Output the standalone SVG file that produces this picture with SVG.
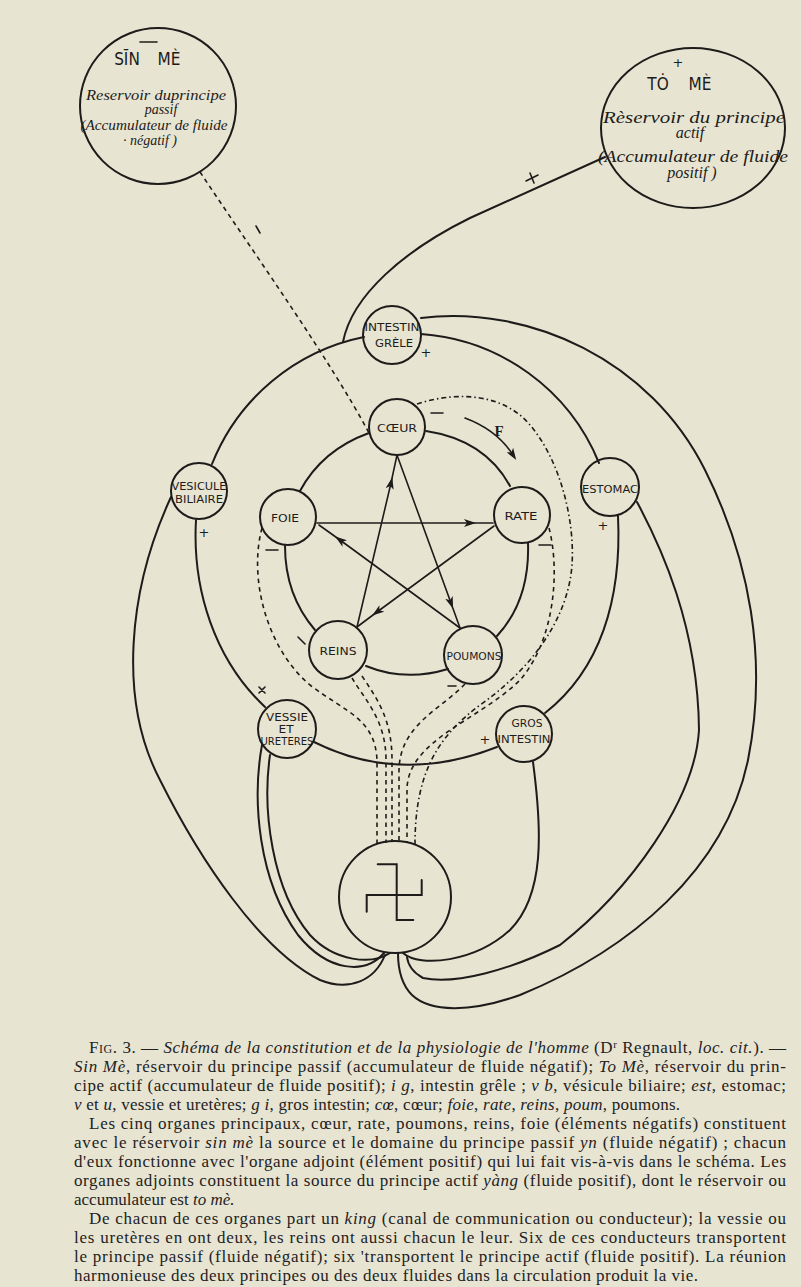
<svg xmlns="http://www.w3.org/2000/svg" width="801" height="1287" viewBox="0 0 801 1287">
<defs>
<style>
.ln{fill:none;stroke:#1d1c1a;stroke-width:2;stroke-linecap:round}
.th{fill:none;stroke:#1d1c1a;stroke-width:1.6;stroke-linecap:round}
.ds{fill:none;stroke:#1d1c1a;stroke-width:1.6;stroke-dasharray:4.5 4}
.dd{fill:none;stroke:#1d1c1a;stroke-width:1.6;stroke-dasharray:5 3 1.5 3}
.nd{fill:none;stroke:#1d1c1a;stroke-width:2}
.lb{font-family:"DejaVu Sans Condensed","DejaVu Sans",sans-serif;font-size:11px;fill:#1d1c1a;text-anchor:middle}
.it{font-family:"Liberation Serif",serif;font-style:italic;font-size:14px;fill:#1d1c1a;text-anchor:middle}
.sg{font-family:"DejaVu Sans",sans-serif;font-size:13px;fill:#1d1c1a;text-anchor:middle}
.tt{font-family:"DejaVu Sans Condensed","DejaVu Sans",sans-serif;font-size:17px;fill:#1d1c1a;text-anchor:middle}
.cp{font-family:"Liberation Serif",serif;font-size:17px;fill:#222}
.i{font-style:italic}
</style>
<marker id="ar" markerUnits="userSpaceOnUse" markerWidth="12" markerHeight="8" refX="6" refY="4" orient="auto">
<path d="M0,0 L12,4 L0,8 L3,4 z" fill="#1d1c1a"/>
</marker>
</defs>
<rect width="801" height="1287" fill="#e8e4d2"/>

<g id="connectors">
<path class="ln" d="M605,157 L470,218 C405,250 352,295 343,342"/>
<path class="ln" d="M212,464 A208,208 0 0 1 364,337"/>
<path class="ln" d="M421,334 A208,208 0 0 1 599,463"/>
<path class="ln" d="M421,318 C530,305 650,360 705,470 C750,560 768,660 748,760 C725,870 630,950 520,995 C470,1013 430,1012 412,995 C402,985 398,970 398,953"/>
<path class="ln" d="M637,502 C660,545 698,625 699,730 C695,800 630,890 560,945 C510,970 455,985 423,978 C412,972 408,965 407,957"/>
<path class="ln" d="M618,516 C622,600 600,670 545,713"/>
<path class="ln" d="M533,762 C542,830 545,895 510,930 C475,962 420,968 403,953"/>
<path class="ln" d="M196,520 C192,590 215,660 265,707"/>
<path class="ln" d="M171,497 C128,590 118,700 160,780 C200,860 260,950 320,980 C350,992 375,980 385,955"/>
<path class="ln" d="M262,745 C252,800 258,880 298,935 C328,972 365,975 384,953"/>
<path class="ln" d="M270,755 C262,810 272,890 310,935 C335,962 372,965 390,953"/>
<path class="ln" d="M314,742 Q400,785 497,747"/>
<path class="ln" d="M300,491 Q322,450 369,433"/>
<path class="ln" d="M426,431 Q485,440 510,486"/>
<path class="ln" d="M528,543 Q530,600 497,636"/>
<path class="ln" d="M448,669 Q405,682 366,666"/>
<path class="ln" d="M315,630 Q285,595 285,546"/>
<polyline class="th" points="317,523 470,523 493,523" marker-mid="url(#ar)"/>
<polyline class="th" points="494,526 377,612 357,627" marker-mid="url(#ar)"/>
<polyline class="th" points="357,627 391,483 397,455" marker-mid="url(#ar)"/>
<polyline class="th" points="397,455 451,603 460,628" marker-mid="url(#ar)"/>
<polyline class="th" points="460,628 340,540 319,525" marker-mid="url(#ar)"/>
<path class="th" d="M465,418 Q497,430 513,455" marker-end="url(#ar)"/>
<path class="ds" d="M200,172 C260,262 330,360 369,433"/>
<path class="ds" d="M262,528 C248,580 268,650 310,685 C345,712 375,718 377,760 L377,844"/>
<path class="ds" d="M352,678 C365,700 386,720 386,760 L386,843"/>
<path class="ds" d="M362,676 C378,700 392,720 392,760 L392,842"/>
<path class="ds" d="M465,684 C440,710 400,725 399,770 L399,842"/>
<path class="ds" d="M549,528 C560,570 555,640 520,680 C480,720 407,740 407,790 L407,842"/>
<path class="dd" d="M417,404 C460,390 505,395 530,425 C560,460 575,520 572,565 C568,620 530,670 480,705 C440,735 415,770 415,844"/>
<path class="th" d="M256,226 L260,233"/>
</g>

<g id="sin-me">
<circle class="nd" cx="158" cy="106" r="78"/>
<path class="th" d="M140,42 H157"/>
<text class="tt" x="127" y="65">SĪN</text>
<text class="tt" x="169" y="65">MÈ</text>
<text class="it" x="156" y="100" textLength="140" lengthAdjust="spacingAndGlyphs">Reservoir duprincipe</text>
<text class="it" x="161" y="114">passif</text>
<text class="it" x="154" y="130" textLength="147" lengthAdjust="spacingAndGlyphs">(Accumulateur de fluide</text>
<text class="it" x="150" y="145">· négatif )</text>
</g>

<g id="to-me">
<ellipse class="nd" cx="693" cy="128" rx="92" ry="80"/>
<text class="sg" x="678" y="67">+</text>
<text class="tt" x="658" y="90">TȮ</text>
<text class="tt" x="700" y="90">MÈ</text>
<text class="it" x="694" y="123" textLength="182" lengthAdjust="spacingAndGlyphs" style="font-size:16px">Rèservoir du principe</text>
<text class="it" x="690" y="138" style="font-size:16px">actif</text>
<text class="it" x="693" y="162" textLength="190" lengthAdjust="spacingAndGlyphs" style="font-size:16px">(Accumulateur de fluide</text>
<text class="it" x="692" y="178" style="font-size:16px">positif )</text>
</g>

<g id="intestin-grele">
<circle class="nd" cx="392" cy="335" r="29"/>
<text class="lb" x="392" y="331" textLength="55" lengthAdjust="spacingAndGlyphs">INTESTIN</text>
<text class="lb" x="394" y="347" textLength="38" lengthAdjust="spacingAndGlyphs">GRÈLE</text>
</g>
<g id="coeur">
<circle class="nd" cx="397" cy="427" r="28"/>
<text class="lb" x="397" y="432" textLength="40" lengthAdjust="spacingAndGlyphs">CŒUR</text>
</g>
<g id="foie">
<circle class="nd" cx="288" cy="517" r="28"/>
<text class="lb" x="285" y="522" textLength="28" lengthAdjust="spacingAndGlyphs">FOIE</text>
</g>
<g id="rate">
<circle class="nd" cx="522" cy="515" r="28"/>
<text class="lb" x="521" y="520" textLength="33" lengthAdjust="spacingAndGlyphs">RATE</text>
</g>
<g id="reins">
<circle class="nd" cx="338" cy="650" r="29"/>
<text class="lb" x="338" y="655" textLength="37" lengthAdjust="spacingAndGlyphs">REINS</text>
</g>
<g id="poumons">
<circle class="nd" cx="473" cy="655" r="29"/>
<text class="lb" x="474" y="660" textLength="55" lengthAdjust="spacingAndGlyphs">POUMONS</text>
</g>
<g id="vesicule-biliaire">
<circle class="nd" cx="199" cy="491" r="28"/>
<text class="lb" x="199" y="490" textLength="55" lengthAdjust="spacingAndGlyphs">VESICULE</text>
<text class="lb" x="199" y="503" textLength="48" lengthAdjust="spacingAndGlyphs">BILIAIRE</text>
</g>
<g id="estomac">
<circle class="nd" cx="610" cy="487" r="29"/>
<text class="lb" x="610" y="493" textLength="56" lengthAdjust="spacingAndGlyphs">ESTOMAC</text>
</g>
<g id="vessie">
<circle class="nd" cx="287" cy="729" r="29"/>
<text class="lb" x="287" y="721" textLength="42" lengthAdjust="spacingAndGlyphs">VESSIE</text>
<text class="lb" x="286" y="733" textLength="15" lengthAdjust="spacingAndGlyphs">ET</text>
<text class="lb" x="287" y="745" textLength="53" lengthAdjust="spacingAndGlyphs">URETERES</text>
</g>
<g id="gros-intestin">
<circle class="nd" cx="524" cy="734" r="28"/>
<text class="lb" x="527" y="727" textLength="31" lengthAdjust="spacingAndGlyphs">GROS</text>
<text class="lb" x="524" y="743" textLength="53" lengthAdjust="spacingAndGlyphs">INTESTIN</text>
</g>
<g id="swastika">
<circle class="nd" cx="395" cy="897" r="56"/>
<path class="ln" d="M377.7,864.3 H396.7 V920 H413.3 M366.7,911.7 V895 H421.7 V880"/>
</g>

<g id="signs">
<text class="sg" x="426" y="357">+</text>
<text class="sg" x="204" y="537">+</text>
<text class="sg" x="603" y="530">+</text>
<text class="sg" x="485" y="744">+</text>
<path class="th" d="M259,687 L265,693 M265,687 L259,693"/>
<path class="th" d="M526,181 L538,175 M530,173 L534,183"/>
<path class="th" d="M431,413 H443 M266,550 H278 M539,545 H551 M448,686 H456 M298,637 L305,644"/>
<text x="499" y="436" font-family="Liberation Serif,serif" font-weight="bold" font-size="15" fill="#1d1c1a" text-anchor="middle">F</text>
</g>

<g id="caption">
<text class="cp" x="89" y="1053" textLength="697"><tspan style="font-variant:small-caps">Fig.</tspan> 3. — <tspan class="i">Schéma de la constitution et de la physiologie de l'homme</tspan> (D<tspan font-size="11" dy="-5">r</tspan><tspan dy="5"> Regnault, </tspan><tspan class="i">loc. cit.</tspan>). —</text>
<text class="cp" x="74" y="1072" textLength="712"><tspan class="i">Sin Mè</tspan>, réservoir du principe passif (accumulateur de fluide négatif); <tspan class="i">To Mè</tspan>, réservoir du prin-</text>
<text class="cp" x="74" y="1091" textLength="712">cipe actif (accumulateur de fluide positif); <tspan class="i">i g</tspan>, intestin grêle ; <tspan class="i">v b</tspan>, vésicule biliaire; <tspan class="i">est</tspan>, estomac;</text>
<text class="cp" x="74" y="1110" textLength="606"><tspan class="i">v</tspan> et <tspan class="i">u</tspan>, vessie et uretères; <tspan class="i">g i</tspan>, gros intestin; <tspan class="i">cœ</tspan>, cœur; <tspan class="i">foie</tspan>, <tspan class="i">rate</tspan>, <tspan class="i">reins</tspan>, <tspan class="i">poum</tspan>, poumons.</text>
<text class="cp" x="89" y="1129" textLength="697">Les cinq organes principaux, cœur, rate, poumons, reins, foie (éléments négatifs) constituent</text>
<text class="cp" x="74" y="1148" textLength="712">avec le réservoir <tspan class="i">sin mè</tspan> la source et le domaine du principe passif <tspan class="i">yn</tspan> (fluide négatif) ; chacun</text>
<text class="cp" x="74" y="1167" textLength="712">d'eux fonctionne avec l'organe adjoint (élément positif) qui lui fait vis-à-vis dans le schéma. Les</text>
<text class="cp" x="74" y="1186" textLength="712">organes adjoints constituent la source du principe actif <tspan class="i">yàng</tspan> (fluide positif), dont le réservoir ou</text>
<text class="cp" x="74" y="1205">accumulateur est <tspan class="i">to mè.</tspan></text>
<text class="cp" x="89" y="1224" textLength="697">De chacun de ces organes part un <tspan class="i">king</tspan> (canal de communication ou conducteur); la vessie ou</text>
<text class="cp" x="74" y="1243" textLength="712">les uretères en ont deux, les reins ont aussi chacun le leur. Six de ces conducteurs transportent</text>
<text class="cp" x="74" y="1262" textLength="712">le principe passif (fluide négatif); six 'transportent le principe actif (fluide positif). La réunion</text>
<text class="cp" x="74" y="1281" textLength="624">harmonieuse des deux principes ou des deux fluides dans la circulation produit la vie.</text>
</g>
</svg>
